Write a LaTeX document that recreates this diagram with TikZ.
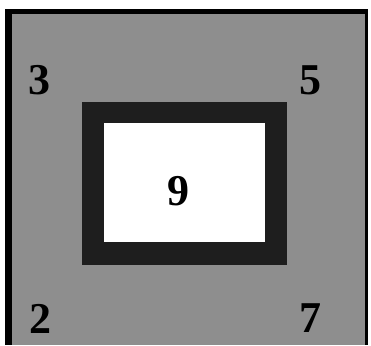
\documentclass[tikz,border=0pt]{standalone}
\usepackage{fontspec}
\setmainfont{Liberation Serif}
\definecolor{outergray}{HTML}{8E8E8E}
\definecolor{framedark}{HTML}{1E1E1E}
\tikzset{
  num/.style={font=\fontsize{44}{46}\selectfont\bfseries, text=black, inner sep=0pt, anchor=center},
}
\begin{document}
\begin{tikzpicture}[x=1pt,y=-1pt]
\useasboundingbox (0,0) rectangle (371,345);
\fill[white] (0,0) rectangle (371,345);
% outer panel with black border
\fill[black] (5,9) rectangle (368,345);
\fill[outergray] (12,14) rectangle (365,345);
% inner dark frame and white window
\node[draw=none, fill=framedark, minimum width=205pt, minimum height=163pt, inner sep=0pt] (frame) at (184.5,183.5) {};
\node[fill=white, minimum width=161pt, minimum height=119pt, inner sep=0pt] (win) at (184.5,182.5) {};
% labels
\node[num] (n3) at (39,80) {3};
\node[num] (n5) at (310,80) {5};
\node[num] (n2) at (40,319) {2};
\node[num] (n7) at (310,318) {7};
\node[num] (n9) at (178,191) {9};
\end{tikzpicture}
\end{document}
